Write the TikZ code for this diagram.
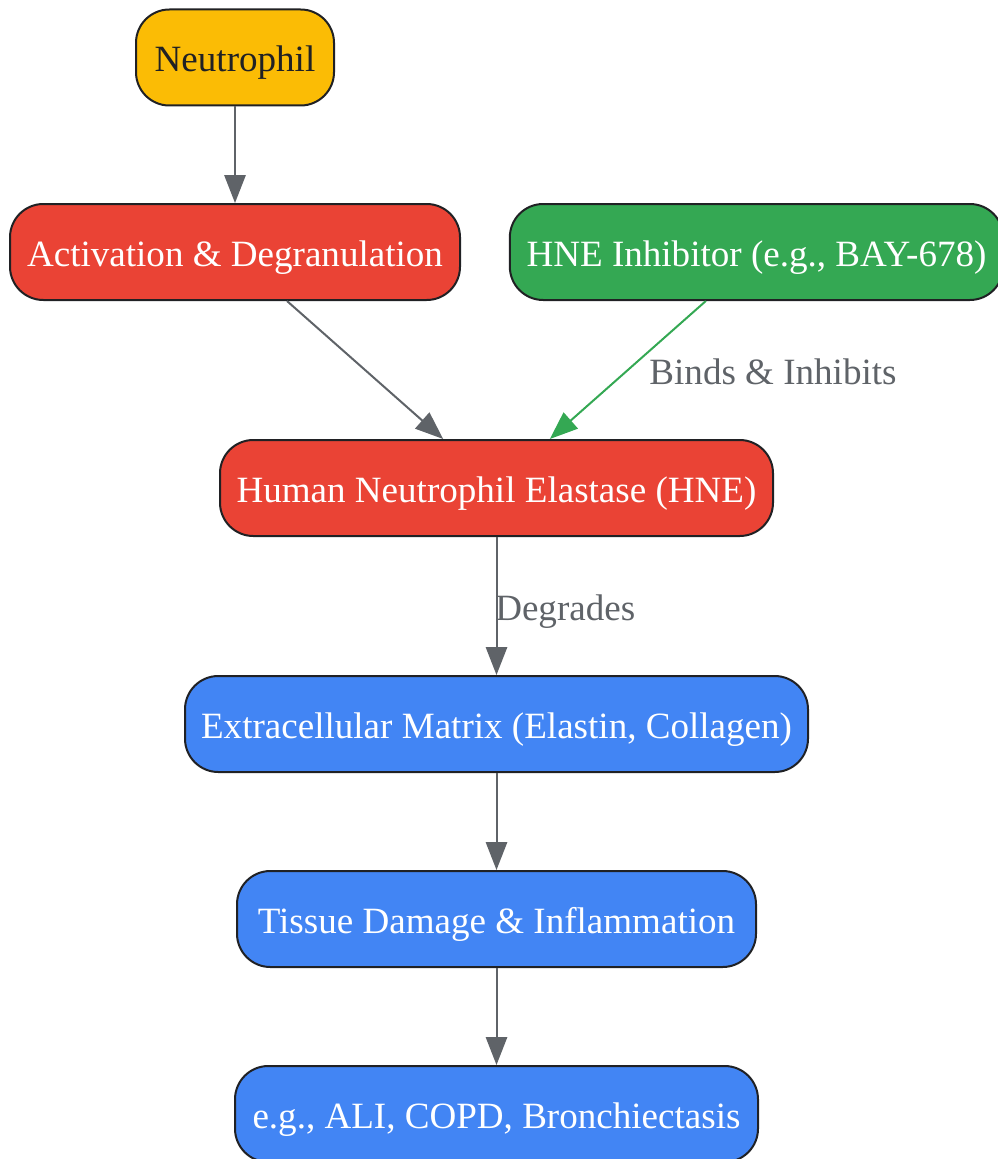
\documentclass[tikz,border=0pt]{standalone}
\usepackage{fontspec}
\setmainfont{Liberation Serif}
\usetikzlibrary{arrows.meta,calc}
\definecolor{cyellow}{HTML}{FBBC05}
\definecolor{cred}{HTML}{EA4335}
\definecolor{cgreen}{HTML}{34A853}
\definecolor{cblue}{HTML}{4285F4}
\definecolor{cgray}{HTML}{5F6368}
\definecolor{cborder}{HTML}{202124}
\tikzset{
  box/.style={draw=cborder, line width=1.5pt, rounded corners=25pt, minimum height=72pt,
    inner sep=0pt, text height=24pt, text depth=3pt,
    font=\fontsize{27.8}{33}\selectfont, text=white},
  conn/.style={draw=cgray, line width=1.5pt, -{Triangle[length=21pt,width=16pt]}},
  lbl/.style={text=cgray, font=\fontsize{27.8}{33}\selectfont, inner sep=0pt}
}
\begin{document}
\begin{tikzpicture}[x=0.75pt,y=-0.75pt]
\useasboundingbox (0,0) rectangle (998,1159);
\clip (0,0) rectangle (998,1159);
\node[box, fill=cyellow, text=cborder, minimum width=148.5pt] (neu) at (235,57.5) {Neutrophil};
\node[box, fill=cred, minimum width=337.5pt] (act) at (235,252) {Activation \& Degranulation};
\node[box, fill=cgreen, minimum width=370pt] (inh) at (756.5,252) {HNE Inhibitor (e.g., BAY-678)};
\node[box, fill=cred, minimum width=414.75pt] (hne) at (496.5,488) {Human Neutrophil Elastase (HNE)};
\node[box, fill=cblue, minimum width=467.25pt] (ecm) at (496.5,724) {Extracellular Matrix (Elastin, Collagen)};
\node[box, fill=cblue, minimum width=389.25pt] (tis) at (496.5,919) {Tissue Damage \& Inflammation};
\node[box, fill=cblue, minimum width=392.25pt] (dis) at (496.5,1114) {e.g., ALI, COPD, Bronchiectasis};

\draw[conn] (neu.south) -- (act.north);
\draw[conn] ([xshift=39pt]act.south) -- ([xshift=-40pt]hne.north);
\draw[conn, draw=cgreen] ([xshift=-38pt]inh.south) -- ([xshift=40pt]hne.north);
\node[lbl] (l1) at (773,372) {Binds \& Inhibits};
\draw[conn] (hne.south) -- (ecm.north);
\node[lbl, anchor=west] (l2) at (495,612) {Degrades};
\draw[conn] (ecm.south) -- (tis.north);
\draw[conn] (tis.south) -- (dis.north);
\end{tikzpicture}
\end{document}
